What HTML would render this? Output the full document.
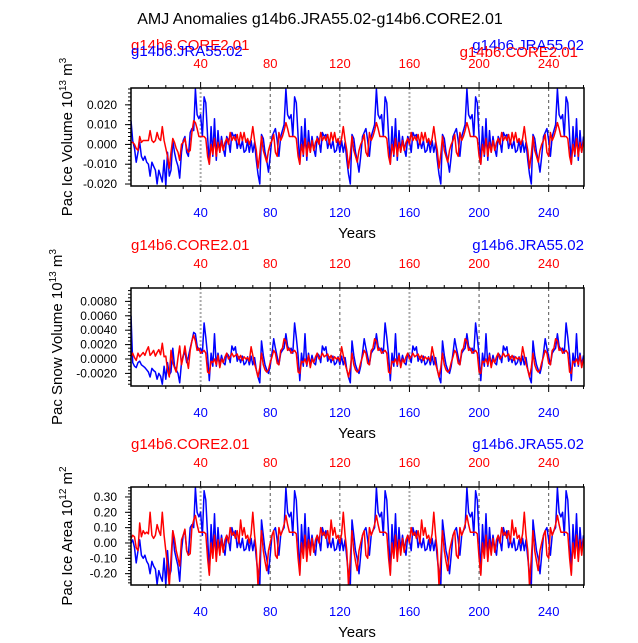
<!DOCTYPE html>
<html><head><meta charset="utf-8"><style>
body{margin:0;background:#fff;}
svg text{font-family:"Liberation Sans",sans-serif;}
</style></head><body>
<svg id="chart" width="638" height="638" xmlns="http://www.w3.org/2000/svg">
<text x="320" y="24" font-size="16" text-anchor="middle">AMJ Anomalies g14b6.JRA55.02-g14b6.CORE2.01</text>
</svg>
<script>
// ---- data (years 0..260) ----
const jraIceInit=[0.012,0.002,-0.002,-0.009,-0.004,0.001,-0.006,-0.008,-0.006,-0.009,-0.01,-0.016,-0.009,-0.011,-0.013,-0.02,-0.013,-0.016,-0.019,-0.008,-0.021,-0.004,-0.016,-0.013,0.002,-0.004,-0.008,-0.011,-0.017,-0.004,0.002,0.004,-0.004,-0.006,0.006,0.008,0.007];
const jraIceCycle=[0.028,0.015,0.013,0.015,0.004,0.024,0.021,0.004,-0.01,0.009,-0.006,0.013,-0.008,0.007,-0.004,0.004,-0.002,-0.006,0.004,0.002,-0.004,0.006,0.004,0.005,-0.002,0.002,-0.002,0.002,-0.004,-0.003,0.002,-0.004,0.002,-0.004,0.001,-0.008,-0.015,-0.02,0.005,0.003,-0.004,-0.008,-0.014,-0.006,0.004,0.006,0.008,0.002,-0.006,0.004,0.007,0.01];
const coreIceInit=[0.001,0.001,0.0,-0.002,-0.003,0.004,0.001,0.002,0.002,0.002,0.002,0.007,0.002,0.001,0.002,0.006,0.003,0.002,0.009,0.002,-0.002,-0.006,-0.012,-0.004,0.003,0.001,-0.002,-0.004,-0.008,0.0,0.001,0.003,-0.002,-0.004,-0.003,0.006,0.012];
const coreIceCycle=[0.011,0.008,0.004,0.004,0.004,0.004,0.003,-0.006,-0.01,0.0,-0.005,0.003,-0.006,0.001,-0.004,0.002,-0.003,0.001,0.003,0.0,0.006,0.002,0.004,0.002,0.005,0.0,0.006,0.002,0.006,0.001,0.003,0.0,0.003,0.009,0.002,-0.003,-0.012,-0.005,0.004,-0.003,-0.006,-0.009,-0.003,0.0,0.002,0.005,-0.004,-0.006,0.006,0.002,0.004,0.007];
const jraSnowInit=[0.006,-0.0005,-0.001,-0.0012,-0.0005,-0.0003,-0.0008,-0.001,-0.0012,-0.0015,-0.0018,-0.0025,-0.0013,-0.0016,-0.0018,-0.0028,-0.002,-0.0024,-0.0035,-0.001,-0.0028,-0.0005,-0.0022,-0.0018,0.0015,-0.001,-0.0015,-0.002,-0.0033,-0.0005,0.0005,0.001,-0.0005,0.0003,0.0015,0.0025,0.0037];
const jraSnowCycle=[0.0035,0.0018,0.0012,0.0015,0.0008,0.005,0.003,0.0005,-0.003,0.0008,-0.001,0.0035,-0.001,0.0008,-0.0008,0.0005,-0.0005,-0.0008,0.0008,0.0005,-0.0005,0.0018,0.0012,0.0017,-0.0003,0.0003,-0.0005,0.0004,-0.0008,-0.0005,0.0003,-0.0008,0.0004,-0.0008,0.0002,-0.0015,-0.0025,-0.0033,0.0025,0.0005,-0.0008,-0.0015,-0.002,-0.001,0.0008,0.0028,0.0015,0.0003,-0.0008,0.0008,0.0012,0.0015];
const coreSnowInit=[0.0003,0.0008,0.0002,-0.0002,0.0008,0.0003,0.0006,0.0009,0.0005,0.0012,0.0017,0.0005,0.0008,0.0012,0.0004,0.0009,0.0013,0.0006,0.0022,0.0003,0.0004,-0.0015,-0.0025,0.0012,-0.0005,-0.0012,-0.0018,0.0002,0.0018,-0.0008,0.0003,0.0018,0.0,-0.0013,0.0012,0.0025,0.0033];
const coreSnowCycle=[0.0025,0.0012,0.0015,0.0008,0.001,0.0012,0.0008,-0.0018,-0.002,-0.0003,-0.0005,0.0,-0.0008,0.0005,-0.0012,0.0,-0.0005,0.0003,0.0008,0.0,0.0003,0.0008,0.0003,0.0005,0.0007,0.0,0.0005,-0.0002,0.0003,0.0,0.0002,-0.0003,0.0017,0.0005,-0.0007,-0.0015,-0.0025,-0.0012,0.0008,-0.0008,-0.0015,-0.0018,-0.0015,-0.0005,0.0003,0.0012,0.0008,-0.0006,-0.0008,0.0012,0.0015,0.0028];
const jraAreaInit=[0.0,0.02,-0.03,-0.13,-0.05,0.02,-0.08,-0.1,-0.08,-0.12,-0.14,-0.2,-0.12,-0.15,-0.17,-0.27,-0.18,-0.22,-0.25,-0.1,-0.28,-0.05,-0.22,-0.18,0.08,-0.05,-0.1,-0.15,-0.25,-0.05,0.05,0.08,-0.05,-0.08,0.1,0.12,0.1];
const jraAreaCycle=[0.36,0.2,0.17,0.2,0.05,0.34,0.28,0.05,-0.2,0.12,-0.08,0.19,-0.1,0.1,-0.05,0.05,-0.03,-0.08,0.05,0.02,-0.05,0.1,0.05,0.08,-0.03,0.02,-0.03,0.03,-0.05,-0.04,0.02,-0.05,0.03,-0.05,0.02,-0.1,-0.2,-0.28,0.15,0.05,-0.05,-0.1,-0.2,-0.08,0.05,0.08,0.1,0.02,-0.08,0.05,0.08,0.1];
const coreAreaInit=[0.03,0.05,0.04,-0.03,-0.05,0.13,0.04,0.08,0.06,0.07,0.06,0.2,0.05,0.03,0.05,0.12,0.08,0.05,0.2,0.05,-0.05,-0.15,-0.28,-0.1,0.08,0.03,-0.05,-0.1,-0.15,0.02,0.05,0.09,-0.05,-0.08,-0.07,0.1,0.15];
const coreAreaCycle=[0.18,0.12,0.07,0.07,0.07,0.07,0.06,-0.1,-0.21,0.0,-0.1,0.05,-0.12,0.02,-0.08,0.03,-0.06,0.02,0.05,0.0,0.1,0.05,0.07,0.03,0.08,0.0,0.15,0.05,0.1,0.03,0.05,0.0,0.06,0.2,0.05,-0.05,-0.28,-0.1,0.08,-0.05,-0.12,-0.18,-0.05,0.0,0.05,0.08,-0.08,-0.1,0.1,0.05,0.08,0.12];
const jraIce=[...jraIceInit,...jraIceCycle,...jraIceCycle,...jraIceCycle,...jraIceCycle,...jraIceCycle.slice(0,16)];
const coreIce=[...coreIceInit,...coreIceCycle,...coreIceCycle,...coreIceCycle,...coreIceCycle,...coreIceCycle.slice(0,16)];
const jraSnow=[...jraSnowInit,...jraSnowCycle,...jraSnowCycle,...jraSnowCycle,...jraSnowCycle,...jraSnowCycle.slice(0,16)];
const coreSnow=[...coreSnowInit,...coreSnowCycle,...coreSnowCycle,...coreSnowCycle,...coreSnowCycle,...coreSnowCycle.slice(0,16)];
const jraArea=[...jraAreaInit,...jraAreaCycle,...jraAreaCycle,...jraAreaCycle,...jraAreaCycle,...jraAreaCycle.slice(0,16)];
const coreArea=[...coreAreaInit,...coreAreaCycle,...coreAreaCycle,...coreAreaCycle,...coreAreaCycle,...coreAreaCycle.slice(0,16)];
const xTicks=[40,80,120,160,200,240];
const iceTicks=["-0.020","-0.010","0.000","0.010","0.020"];
const snowTicks=["-0.0020","0.0000","0.0020","0.0040","0.0060","0.0080"];
const areaTicks=["-0.20","-0.10","0.00","0.10","0.20","0.30"];

const NS="http://www.w3.org/2000/svg";
const svg=document.getElementById('chart');
const X0=131,X1=584,XMIN=0,XMAX=260.3;
function xs(v){return X0+(v-XMIN)/(XMAX-XMIN)*(X1-X0);}
function mk(tag,at,parent){const e=document.createElementNS(NS,tag);for(const k in at)e.setAttribute(k,at[k]);(parent||svg).appendChild(e);return e;}

function panel(p){
  const g=mk('g',{});
  
  
  const ys=v=>p.top+(p.ymax-v)/(p.ymax-p.ymin)*(p.bot-p.top);
  let t=mk('text',{x:131,y:p.top-38,'font-size':15,fill:'#f00'},g);t.textContent='g14b6.CORE2.01';
  
  t=mk('text',{x:584,y:p.top-38,'font-size':15,fill:'#00f','text-anchor':'end'},g);t.textContent='g14b6.JRA55.02';
  
  if(p.dup){
    t=mk('text',{x:131,y:p.top-32,'font-size':15,fill:'#00f'},g);t.textContent='g14b6.JRA55.02';
    
    t=mk('text',{x:578,y:p.top-31,'font-size':15,fill:'#f00','text-anchor':'end'},g);t.textContent='g14b6.CORE2.01';
    
  }
  xTicks.forEach((v,i)=>{
    const l=mk('line',{x1:xs(v),x2:xs(v),y1:p.top,y2:p.bot,stroke:(i==0||i==3)?'#aaa':'#555','stroke-width':(i==0||i==3)?2:1,'stroke-dasharray':(i==0||i==3)?'2,2':'3,3'},g);
    
  });
  for(let v=10;v<=260;v+=10){
    const maj=v%40==0, len=maj?6:3;
    mk('line',{x1:xs(v),x2:xs(v),y1:p.top,y2:p.top-len,stroke:'#000','stroke-width':1},g);
    mk('line',{x1:xs(v),x2:xs(v),y1:p.bot,y2:p.bot+len,stroke:'#000','stroke-width':1},g);
  }
  xTicks.forEach(v=>{
    let a=mk('text',{x:xs(v),y:p.top-20,'font-size':13,fill:'#f00','text-anchor':'middle'},g);a.textContent=v;
    
    a=mk('text',{x:xs(v),y:p.bot+31,'font-size':13,fill:'#00f','text-anchor':'middle'},g);a.textContent=v;
    
  });
  let xt=mk('text',{x:357,y:p.bot+52,'font-size':15,'text-anchor':'middle'},g);xt.textContent='Years';
  
  for(let v=Math.ceil(p.ymin/p.minor)*p.minor;v<=p.ymax+1e-12;v+=p.minor){
    const y=ys(v);mk('line',{x1:X0,x2:X0-3,y1:y,y2:y,stroke:'#000','stroke-width':1},g);
  }
  p.ticks.forEach(s=>{
    const y=ys(parseFloat(s));
    mk('line',{x1:X0,x2:X0-6,y1:y,y2:y,stroke:'#000','stroke-width':1},g);
    const a=mk('text',{x:117,y:y+4,'font-size':12,'text-anchor':'end'},g);a.textContent=s;
    
  });
  const yc=(p.top+p.bot)/2;
  const yt=mk('text',{x:0,y:0,'font-size':15,'text-anchor':'middle',transform:`translate(${p.tx},${yc}) rotate(-90)`},g);
  
  yt.innerHTML=p.title+' 10<tspan dy="-6" font-size="10">'+p.exp+'</tspan><tspan dy="6"> m</tspan><tspan dy="-6" font-size="10">'+p.unit+'</tspan>';
  const clip='clip'+p.top;
  const cp=mk('clipPath',{id:clip},g);mk('rect',{x:X0,y:p.top,width:X1-X0,height:p.bot-p.top},cp);
  [[p.jra,'#00f','jra-line'],[p.core,'#f00','core-line']].forEach(([arr,c,n])=>{
    const pts=arr.map((v,i)=>xs(i).toFixed(1)+','+ys(v).toFixed(1)).join(' ');
    const pl=mk('polyline',{points:pts,fill:'none',stroke:c,'stroke-width':1.5,'stroke-linejoin':'round','clip-path':`url(#${clip})`},g);
    
  });
  const r=mk('rect',{x:X0,y:p.top,width:X1-X0,height:p.bot-p.top,fill:'none',stroke:'#000','stroke-width':1.5},g);
  
}
panel({name:'ice-volume-panel',top:88,bot:186,ymin:-0.021,ymax:0.0285,minor:0.002,ticks:iceTicks,jra:jraIce,core:coreIce,title:'Pac Ice Volume',exp:'13',unit:'3',tx:72,dup:true});
panel({name:'snow-volume-panel',top:288,bot:386,ymin:-0.00375,ymax:0.00986,minor:0.0005,ticks:snowTicks,jra:jraSnow,core:coreSnow,title:'Pac Snow Volume',exp:'13',unit:'3',tx:62,dup:false});
panel({name:'ice-area-panel',top:487,bot:585,ymin:-0.274,ymax:0.365,minor:0.02,ticks:areaTicks,jra:jraArea,core:coreArea,title:'Pac Ice Area',exp:'12',unit:'2',tx:72,dup:false});
</script>
</body></html>
